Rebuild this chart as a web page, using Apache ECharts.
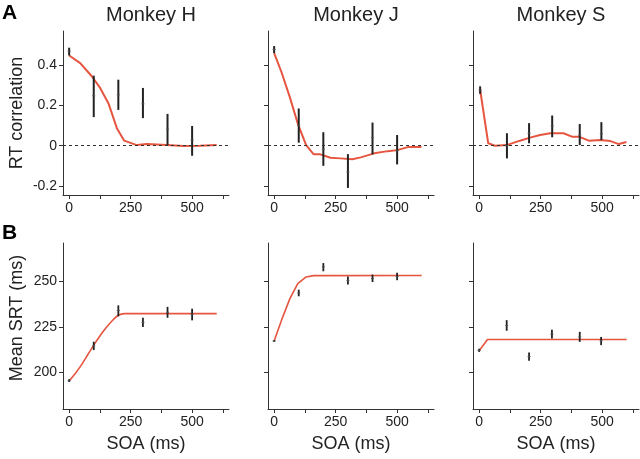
<!DOCTYPE html>
<html><head><meta charset="utf-8">
<script src="https://cdn.jsdelivr.net/npm/echarts@6/dist/echarts.min.js"></script>
<style>html,body{margin:0;padding:0;background:#fff}#c{width:640px;height:459px}</style>
</head><body><div id="c"></div>
<script>
// ---- Data ----
const monkeys = ['Monkey H', 'Monkey J', 'Monkey S'];
const xTicks = [0, 125, 250, 375, 500, 625];
const xLabels = [0, 250, 500];
const corrTicks = [-0.2, 0, 0.2, 0.4];
const srtTicks = [200, 225, 250];

// Panel A: RT correlation, observed (mean, lower, upper)
const soaH = [0, 100, 200, 300, 400, 500];
const corrMeanH = [0.47, 0.248, 0.253, 0.208, 0.082, 0.028];
const corrLoH   = [0.448, 0.142, 0.178, 0.137, 0.003, -0.05];
const corrHiH   = [0.487, 0.348, 0.328, 0.287, 0.158, 0.098];

const soaJ = [0, 100, 200, 300, 400, 500];
const corrMeanJ = [0.478, 0.10, -0.017, -0.13, 0.04, -0.025];
const corrLoJ   = [0.46, 0.015, -0.10, -0.21, -0.043, -0.093];
const corrHiJ   = [0.495, 0.185, 0.067, -0.042, 0.115, 0.053];

const soaS = [4, 113, 203, 297, 409, 497];
const corrMeanS = [0.277, 0.0, 0.062, 0.098, 0.053, 0.06];
const corrLoS   = [0.258, -0.063, 0.012, 0.042, 0.003, 0.028];
const corrHiS   = [0.295, 0.062, 0.112, 0.15, 0.108, 0.117];

// Panel A: model curves [SOA, correlation]
const corrModelH = [[0,0.448],[45,0.41],[92,0.345],[126,0.287],[160,0.21],[194,0.087],[224,0.025],[275,0.003],[316,0.008],[397,0.003],[465,-0.002],[532,0],[600,0.003]];
const corrModelJ = [[0,0.46],[30,0.365],[64,0.24],[96,0.11],[130,0.003],[160,-0.042],[188,-0.043],[229,-0.06],[270,-0.063],[318,-0.067],[352,-0.058],[407,-0.038],[462,-0.027],[500,-0.022],[544,-0.007],[599,-0.007]];
const corrModelS = [[4,0.278],[37,0.012],[64,0],[112,0.003],[166,0.025],[207,0.04],[248,0.053],[289,0.062],[343,0.062],[377,0.045],[405,0.045],[446,0.025],[493,0.028],[534,0.023],[568,0.008],[599,0.018]];

// Panel B: mean SRT, observed (mean, lower, upper)
const srtSoaH = [0, 100, 200, 300, 400, 500];
const srtMeanH = [195.5, 214.6, 234, 227.5, 233, 232];
const srtLoH   = [194.8, 212.3, 230.8, 225, 230, 228.6];
const srtHiH   = [196.3, 216.9, 236.8, 230, 236, 235];

const srtSoaJ = [0, 100, 200, 300, 400, 500];
const srtMeanJ = [217.3, 243.6, 257.9, 250.5, 251.6, 252.6];
const srtLoJ   = [216.8, 241.8, 255.5, 248.2, 249.6, 250.6];
const srtHiJ   = [217.8, 245.4, 260, 252.7, 253.7, 254.7];

const srtSoaS = [0, 112, 203, 296, 409, 496];
const srtMeanS = [212.1, 225.8, 208.8, 221.0, 219.5, 217.3];
const srtLoS   = [211.3, 222.9, 206.4, 218.6, 216.8, 215];
const srtHiS   = [213, 228.7, 211, 223.5, 222.3, 219.5];

// Panel B: model curves [SOA, SRT]
const srtModelH = [[0,195.4],[25,199.5],[50,204.2],[75,209.6],[100,215],[125,220],[150,224.5],[175,228.4],[200,231.4],[225,232.3],[600,232.3]];
const srtModelJ = [[0,217.3],[30,228.7],[64,240.5],[96,248.7],[130,252.4],[160,253.1],[600,253.2]];
const srtModelS = [[0,211.9],[34,218.1],[600,218.1]];

// ---- Build ----
const RED = '#e5553f';
const INK = '#222';
const FONT = 'Liberation Sans';
const lefts = [63, 268, 473];
const gridW = 166;
const rowA = {top: 31, height: 164};
const rowB = {top: 243, height: 166};

const obsA = [[soaH, corrMeanH, corrLoH, corrHiH],[soaJ, corrMeanJ, corrLoJ, corrHiJ],[soaS, corrMeanS, corrLoS, corrHiS]];
const obsB = [[srtSoaH, srtMeanH, srtLoH, srtHiH],[srtSoaJ, srtMeanJ, srtLoJ, srtHiJ],[srtSoaS, srtMeanS, srtLoS, srtHiS]];
const modA = [corrModelH, corrModelJ, corrModelS];
const modB = [srtModelH, srtModelJ, srtModelS];

const grid = [], xAxis = [], yAxis = [], series = [], title = [];

function errRender(lw) {
  return function (params, api) {
    const x = api.value(0), lo = api.value(1), hi = api.value(2), m = api.value(3);
    const p1 = api.coord([x, lo]), p2 = api.coord([x, hi]), pm = api.coord([x, m]);
    return {type: 'group', children: [
      {type: 'line', shape: {x1: p1[0], y1: p1[1], x2: p2[0], y2: p2[1]}, style: {stroke: INK, lineWidth: lw}},
      {type: 'line', shape: {x1: pm[0] - 1.5, y1: pm[1], x2: pm[0] + 1.5, y2: pm[1]}, style: {stroke: '#555', lineWidth: 1}}
    ]};
  };
}

for (let r = 0; r < 2; r++) {
  for (let c = 0; c < 3; c++) {
    const idx = r * 3 + c;
    const row = r === 0 ? rowA : rowB;
    grid.push({left: lefts[c], width: gridW, top: row.top, height: row.height});
    xAxis.push({
      type: 'value', gridIndex: idx, min: -25, max: 650,
      axisLine: {show: true, onZero: false, lineStyle: {color: '#333', width: 1}},
      axisTick: {show: true, length: 4, customValues: xTicks, lineStyle: {color: '#333'}},
      axisLabel: {show: true, customValues: xLabels, fontFamily: FONT, fontSize: 14, color: INK, margin: 6},
      splitLine: {show: false},
      name: r === 1 ? 'SOA (ms)' : '', nameLocation: 'middle', nameGap: 26,
      nameTextStyle: {fontFamily: FONT, fontSize: 18, color: INK}
    });
    const yt = r === 0 ? corrTicks : srtTicks;
    yAxis.push({
      type: 'value', gridIndex: idx,
      min: r === 0 ? -0.245 : 180, max: r === 0 ? 0.57 : 271,
      axisLine: {show: true, onZero: false, lineStyle: {color: '#333', width: 1}},
      axisTick: {show: true, length: 4, customValues: yt, lineStyle: {color: '#333'}},
      axisLabel: {show: c === 0, customValues: yt, fontFamily: FONT, fontSize: 14, color: INK, margin: 6},
      splitLine: {show: false},
      name: (c === 0 && r === 0) ? 'RT correlation' : '',
      nameLocation: 'middle', nameGap: 37, nameRotate: 90,
      nameTextStyle: {fontFamily: FONT, fontSize: 18, color: INK}
    });
    const model = r === 0 ? modA[c] : modB[c];
    const line = {
      type: 'line', xAxisIndex: idx, yAxisIndex: idx, data: model,
      showSymbol: false, symbol: 'none', smooth: r === 1 && c === 0 ? 0.3 : false,
      lineStyle: {color: RED, width: r === 0 ? 2 : 1.6}, z: 2, silent: true
    };
    if (r === 0) {
      line.markLine = {silent: true, symbol: 'none', label: {show: false},
        lineStyle: {type: [3, 3], color: '#333', width: 1}, data: [{yAxis: 0}]};
    }
    series.push(line);
    const o = r === 0 ? obsA[c] : obsB[c];
    series.push({
      type: 'custom', xAxisIndex: idx, yAxisIndex: idx, z: 3, silent: true,
      renderItem: errRender(r === 0 ? 2 : 1.8),
      data: o[0].map((s, i) => [s, o[2][i], o[3][i], o[1][i]])
    });
  }
}

monkeys.forEach((m, c) => {
  title.push({text: m, left: lefts[c] + gridW / 2, top: 0, textAlign: 'center',
    textStyle: {fontFamily: FONT, fontSize: 20, fontWeight: 'normal', color: INK}});
});

const chart = echarts.init(document.getElementById('c'), null, {renderer: 'canvas'});
chart.setOption({
  animation: false,
  title: title,
  grid: grid, xAxis: xAxis, yAxis: yAxis, series: series,
  graphic: [
    {type: 'text', left: 2, top: 3, style: {text: 'A', font: 'bold 21px "Liberation Sans"', fill: '#000'}},
    {type: 'text', left: 2, top: 223, style: {text: 'B', font: 'bold 21px "Liberation Sans"', fill: '#000'}},
    {type: 'text', x: 17, y: 318, rotation: Math.PI / 2,
      style: {text: 'Mean SRT (ms)', font: '18px "Liberation Sans"', fill: INK, align: 'center', verticalAlign: 'middle'}}
  ]
});
</script></body></html>
